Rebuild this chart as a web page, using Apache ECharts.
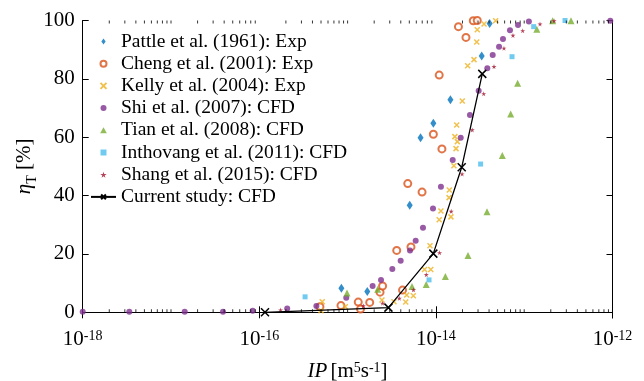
<!DOCTYPE html>
<html>
<head>
<meta charset="utf-8">
<script src="https://cdn.jsdelivr.net/npm/echarts@6/dist/echarts.min.js"></script>
<style>html,body{margin:0;padding:0;background:#fff}#c{width:644px;height:381px}</style>
</head>
<body>
<div id="c"></div>
<script>
// ---- data (IP [m^5 s^-1], eta_T [%]) ----
const legendNames = ['Pattle et al. (1961): Exp','Cheng et al. (2001): Exp','Kelly et al. (2004): Exp','Shi et al. (2007): CFD','Tian et al. (2008): CFD','Inthovang et al. (2011): CFD','Shang et al. (2015): CFD','Current study: CFD'];
const pattle = [[8.5e-16,8.2],[1.67e-15,7.1],[5.05e-15,36.7],[6.7e-15,59.8],[9.36e-15,64.8],[1.46e-14,72.8],[3.3e-14,87.8],[4.06e-14,99.0]];
const cheng = [[4.86e-16,1.9],[8.41e-16,2.3],[1.32e-15,3.5],[1.4e-15,1.1],[1.78e-15,3.4],[2.33e-15,6.9],[2.49e-15,9.0],[4.19e-15,7.6],[3.6e-15,21.2],[5.22e-15,22.4],[4.8e-15,44.1],[6.97e-15,41.2],[9.36e-15,61.0],[1.17e-14,56.0],[1.09e-14,81.3],[1.8e-14,97.9],[2.19e-14,94.2],[2.65e-14,99.9],[2.94e-14,100]];
const kelly = [[5.16e-16,3.6],[5.0e-16,0.5],[9.42e-16,1.9],[2.45e-15,4.2],[3.35e-15,3.6],[4.67e-15,5.9],[5.55e-15,5.7],[4.55e-15,3.5],[7.43e-15,14.7],[8.75e-15,14.7],[8.57e-15,22.8],[1.14e-14,34.7],[1.09e-14,31.7],[1.48e-14,32.7],[1.42e-14,41.9],[1.41e-14,39.3],[1.6e-14,50.2],[1.69e-14,56.1],[1.75e-14,58.5],[1.64e-14,60.2],[1.72e-14,64.2],[1.99e-14,72.4],[2.29e-14,84.5],[2.7e-14,86.6],[2.9e-14,92.6],[2.94e-14,96.8],[3.51e-14,98.8],[4.75e-14,99.9]];
const shi = [[1e-18,0.2],[3.37e-18,0.2],[1.43e-17,0.2],[3.88e-17,0.2],[8.41e-17,0.5],[2.07e-16,1.3],[4.43e-16,2.2],[9.66e-16,5.0],[1.92e-15,9.0],[2.39e-15,11.1],[3.21e-15,14.8],[3.99e-15,17.7],[5.09e-15,21.2],[5.9e-15,24.5],[7.14e-15,29.0],[9.27e-15,35.6],[1.14e-14,43.0],[1.55e-14,52.2],[1.91e-14,59.8],[2.43e-14,67.6],[3.05e-14,75.9],[3.82e-14,83.6],[4.4e-14,88.2],[5.19e-14,91.0],[5.75e-14,93.7],[6.9e-14,96.7],[8.51e-14,98.5],[1.13e-13,99.7],[9.44e-13,99.9]];
const tian = [[9.84e-16,6.6],[2.19e-15,7.9],[5.36e-15,8.8],[7.76e-15,9.5],[1.28e-14,12.3],[2.31e-14,19.5],[3.79e-14,34.5],[5.65e-14,53.7],[7.03e-14,68.0],[8.43e-14,78.5],[1.39e-13,97.0],[2.1e-13,99.9],[3.39e-13,99.9]];
const inthovang = [[3.3e-16,5.3],[8.36e-15,11.1],[3.21e-14,50.8],[7.28e-14,87.6],[1.28e-13,97.9],[2.9e-13,100]];
const shang = [[1.74e-16,0.8],[1.51e-15,2.2],[2.49e-15,3.1],[3.85e-15,4.8],[5.57e-15,7.7],[7.78e-15,12.9],[1.1e-14,20.4],[1.49e-14,34.6],[1.98e-14,47.4],[2.58e-14,62.5],[3.48e-14,74.9],[4.55e-14,84.2],[5.9e-14,90.5],[7.46e-14,94.9],[9.62e-14,96.5],[1.51e-13,98.8],[2.18e-13,99.9]];
const current = [[1.16e-16,0],[2.9e-15,1.6],[9.35e-15,20.1],[1.96e-14,49.7],[3.35e-14,81.7]];
const yTicks = [0,20,40,60,80,100];
const xMin = 1e-18, xMax = 1e-12;
const xLabelExponents = [-18,-16,-14,-12];

// minor tick positions of the log axis (2..9 x 10^n and odd decades)
const minorTicks = [];
for (let e = -18; e < -12; e++) {
  for (let k = 1; k <= 9; k++) {
    if (k === 1 && (e % 2 === 0)) continue;
    minorTicks.push(k * Math.pow(10, e));
  }
}

const FONT = 'Liberation Serif';
const starPath = 'path://M50,0L61,35L98,35L68,57L79,91L50,70L21,91L32,57L2,35L39,35Z';
const xPath = 'path://M0,0L10,10M10,0L0,10';
const diamondPath = 'path://M5,0L10,7L5,14L0,7Z';
const triPath = 'path://M5,0L10,9L0,9Z';
const sqPath = 'path://M0,0L10,0L10,10L0,10Z';

function scat(name, data, symbol, size, color, extra) {
  return Object.assign({
    name, type: 'scatter', data, symbol, symbolSize: size,
    itemStyle: { color: color }, z: 3
  }, extra || {});
}

const chart = echarts.init(document.getElementById('c'), null, { renderer: 'canvas' });
const supRich = {
  b: { fontFamily: FONT, fontSize: 21, color: '#000', lineHeight: 24, verticalAlign: 'top' },
  sup: { fontFamily: FONT, fontSize: 14, color: '#000', lineHeight: 24, verticalAlign: 'top' }
};
chart.setOption({
  animation: false,
  backgroundColor: '#fff',
  textStyle: { fontFamily: FONT },
  grid: { left: 82.7, right: 31.5, top: 20.5, bottom: 68.7, containLabel: false, outerBoundsMode: 'none' },
  legend: {
    data: [
      { name: legendNames[0], icon: diamondPath },
      { name: legendNames[1] },
      { name: legendNames[2] },
      { name: legendNames[3] },
      { name: legendNames[4], icon: triPath },
      { name: legendNames[5], icon: sqPath },
      { name: legendNames[6] },
      { name: legendNames[7] }
    ],
    orient: 'vertical', left: 90, top: 31.5, padding: 0,
    itemWidth: 25, itemHeight: 6, itemGap: 2.2, symbolKeepAspect: true,
    textStyle: { fontFamily: FONT, fontSize: 19.5, color: '#000', lineHeight: 20 },
    selectedMode: false
  },
  xAxis: [{
    type: 'log', logBase: 10, min: xMin, max: xMax, interval: 2,
    axisLine: { lineStyle: { color: '#000', width: 1 } },
    axisTick: { inside: true, length: 6, lineStyle: { color: '#000' } },
    splitLine: { show: false }, minorTick: { show: false },
    axisLabel: {
      margin: 17, color: '#000',
      formatter: function (v) {
        const e = Math.round(Math.log10(v));
        return xLabelExponents.indexOf(e) >= 0 ? '{b|10}{sup|' + e + '}' : '';
      },
      rich: supRich
    },
    name: '{i|IP} {b|[m}{sup|5}{b|s}{sup|-1}{b|]}', nameLocation: 'middle', nameGap: 49,
    nameMoveOverlap: false,
    nameTextStyle: { rich: {
      i: { fontFamily: FONT, fontSize: 21, fontStyle: 'italic', color: '#000', lineHeight: 24, verticalAlign: 'top' },
      b: supRich.b, sup: supRich.sup } }
  }, {
    type: 'log', logBase: 10, min: xMin, max: xMax, interval: 2, position: 'top',
    axisLine: { lineStyle: { color: '#000', width: 1 } },
    axisTick: { inside: true, length: 6, lineStyle: { color: '#000' } },
    axisLabel: { show: false }, splitLine: { show: false }
  }],
  yAxis: [{
    type: 'value', min: 0, max: 100, interval: 20,
    axisLine: { show: true, lineStyle: { color: '#000', width: 1 } },
    axisTick: { show: true, inside: true, length: 6, lineStyle: { color: '#000' } },
    splitLine: { show: false },
    axisLabel: { margin: 8, color: '#000', fontFamily: FONT, fontSize: 21,
      formatter: function (v) { return yTicks.indexOf(v) >= 0 ? String(v) : ''; } },
    name: '{e|η}{sub|T}{b| [%]}', nameLocation: 'middle', nameGap: 43, nameRotate: 90,
    nameMoveOverlap: false,
    nameTextStyle: { rich: {
      e: { fontFamily: FONT, fontSize: 21, fontStyle: 'italic', color: '#000', lineHeight: 26, verticalAlign: 'top' },
      b: { fontFamily: FONT, fontSize: 21, color: '#000', lineHeight: 26, verticalAlign: 'top' },
      sub: { fontFamily: FONT, fontSize: 14, color: '#000', lineHeight: 26, verticalAlign: 'bottom' } } }
  }, {
    type: 'value', min: 0, max: 100, interval: 20, position: 'right',
    axisLine: { show: true, lineStyle: { color: '#000', width: 1 } },
    axisTick: { show: true, inside: true, length: 6, lineStyle: { color: '#000' } },
    axisLabel: { show: false }, splitLine: { show: false }
  }],
  series: [
    scat(legendNames[0], pattle, 'diamond', [6, 9], '#0072BD'),
    scat(legendNames[1], cheng, 'emptyCircle', 7, '#D95319', { itemStyle: { color: '#D95319', borderColor: '#D95319', borderWidth: 1.5 } }),
    scat(legendNames[2], kelly, xPath, 5, '#EDB120', { itemStyle: { color: '#EDB120', borderColor: '#EDB120', borderWidth: 1.5 } }),
    scat(legendNames[3], shi, 'circle', 6, '#7E2F8E'),
    scat(legendNames[4], tian, 'triangle', 7, '#77AC30'),
    scat(legendNames[5], inthovang, 'rect', 5, '#4DBEEE'),
    scat(legendNames[6], shang, starPath, 5, '#A2142F'),
    {
      name: legendNames[7], type: 'line', data: current, symbol: xPath, symbolSize: 8,
      lineStyle: { color: '#000', width: 1.3 },
      itemStyle: { color: '#000', borderColor: '#000', borderWidth: 1.5 }, z: 4
    },
    {
      type: 'scatter', silent: true, data: minorTicks.map(function (v) { return [v, 0]; }),
      symbol: 'rect', symbolSize: [1, 3], symbolOffset: [0, -1.5], itemStyle: { color: '#000' }, z: 5
    },
    {
      type: 'scatter', silent: true, data: minorTicks.map(function (v) { return [v, 100]; }),
      symbol: 'rect', symbolSize: [1, 3], symbolOffset: [0, 1.5], itemStyle: { color: '#000' }, z: 5
    }
  ]
});
</script>
</body>
</html>
